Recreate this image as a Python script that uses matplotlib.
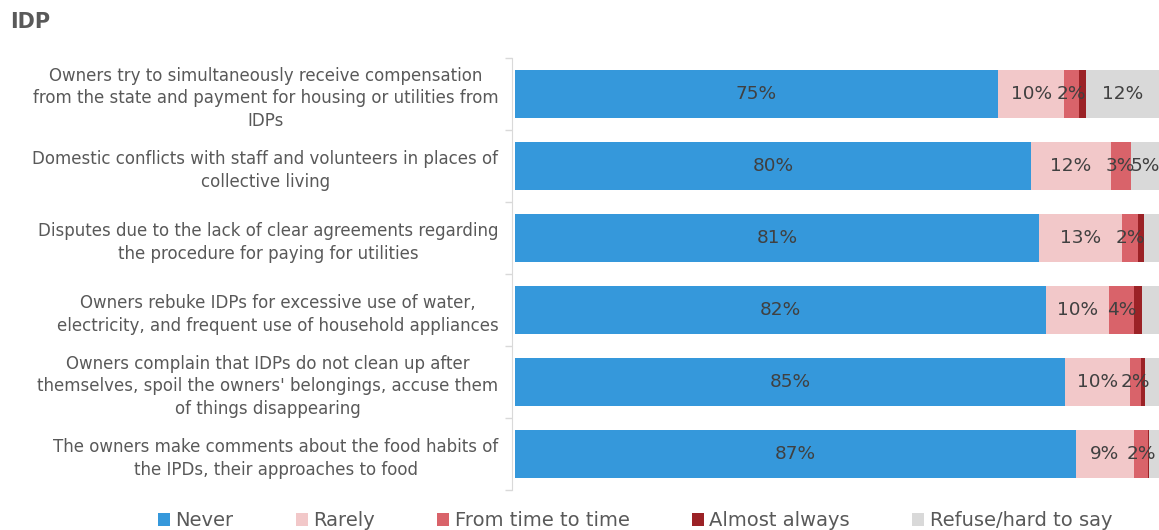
import matplotlib
matplotlib.use("Agg")
import matplotlib.pyplot as plt
from matplotlib.patches import Patch

categories = [
    "Owners try to simultaneously receive compensation\nfrom the state and payment for housing or utilities from\nIDPs",
    "Domestic conflicts with staff and volunteers in places of\ncollective living",
    "Disputes due to the lack of clear agreements regarding\nthe procedure for paying for utilities",
    "Owners rebuke IDPs for excessive use of water,\nelectricity, and frequent use of household appliances",
    "Owners complain that IDPs do not clean up after\nthemselves, spoil the owners' belongings, accuse them\nof things disappearing",
    "The owners make comments about the food habits of\nthe IPDs, their approaches to food",
]
series_names = ["Never", "Rarely", "From time to time", "Almost always", "Refuse/hard to say"]
never = [75.0, 80.2, 81.4, 82.4, 85.4, 87.1]
rarely = [10.3, 12.3, 12.9, 9.8, 10.1, 9.0]
from_time_to_time = [2.3, 3.1, 2.5, 3.9, 1.7, 2.2]
almost_always = [1.0, 0.0, 0.8, 1.2, 0.6, 0.2]
refuse = [11.6, 4.6, 2.4, 2.7, 2.2, 1.5]

series_values = [never, rarely, from_time_to_time, almost_always, refuse]
colors = ["#3598db", "#f2c8c9", "#d9636a", "#9b2226", "#d9d9d9"]
# smallest value that still gets a text label, per series
label_min = [0, 0, 1.5, 1000, 4]

fig = plt.figure(figsize=(11.59, 5.30), dpi=100)
ax = fig.add_axes([515 / 1159, 40 / 530, 644 / 1159, 432 / 530])

# spine placement resets the ticks, so it comes before any tick styling
for s in ["top", "right", "bottom"]:
    ax.spines[s].set_visible(False)
ax.spines["left"].set_color("#d9d9d9")
ax.spines["left"].set_position(("outward", 2))

n = len(categories)
ypos = list(range(n))
left = [0.0] * n
for name, vals, col, lmin in zip(series_names, series_values, colors, label_min):
    ax.barh(ypos, vals, left=left, height=0.667, color=col, label=name, edgecolor="none")
    for i, v in enumerate(vals):
        if v >= lmin and v > 0:
            ax.text(left[i] + v / 2, i, f"{round(v):.0f}%", ha="center", va="center",
                    fontsize=13.3, color="#404040")
    left = [l + v for l, v in zip(left, vals)]

ax.set_xlim(0, 100)
ax.set_ylim(n - 0.5, -0.5)
ax.set_xticks([])
ax.set_yticks([i - 0.5 for i in range(n + 1)], minor=True)
ax.set_yticks(ypos)
ax.tick_params(axis="y", which="major", length=0, pad=10, labelsize=12,
               labelcolor="#595959")
ax.tick_params(axis="y", which="minor", length=5, color="#d9d9d9", width=1)
ax.set_yticklabels(categories)
for lbl in ax.get_yticklabels():
    lbl.set_linespacing(1.35)
    lbl.set_multialignment("center")

fig.text(10 / 1159, 1 - 22 / 530, "IDP", fontsize=15, fontweight="bold",
         color="#595959", va="center", ha="left")

handles = [Patch(facecolor=c, edgecolor="none") for c in colors]
fig.legend(handles, series_names, loc="center", bbox_to_anchor=(0.548, 1 - 521 / 530),
           ncol=5, frameon=False, fontsize=14, handlelength=0.6, handleheight=0.6,
           handletextpad=0.3, columnspacing=3.2, labelcolor="#595959")

fig.savefig("out.png", dpi=100)
